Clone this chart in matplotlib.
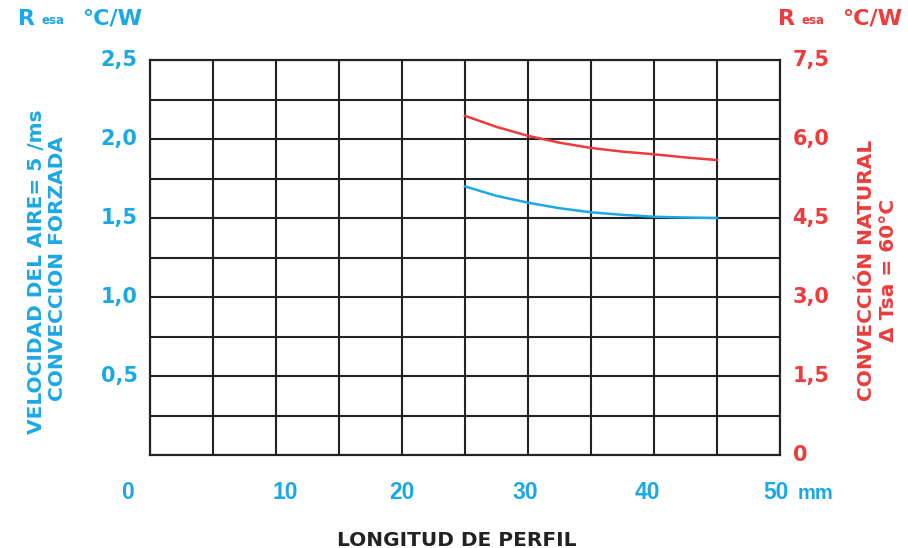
import matplotlib
matplotlib.use("Agg")
import matplotlib.pyplot as plt

# ---- data ----
length_mm = [25, 27.5, 30, 32.5, 35, 37.5, 40, 42.5, 45]
r_forced = [1.70, 1.64, 1.597, 1.562, 1.536, 1.52, 1.508, 1.503, 1.50]   # left axis
r_natural = [6.44, 6.23, 6.06, 5.93, 5.83, 5.76, 5.71, 5.65, 5.60]       # right axis

left_ticks = [0.5, 1.0, 1.5, 2.0, 2.5]
left_labels = ["0,5", "1,0", "1,5", "2,0", "2,5"]
right_ticks = [0, 1.5, 3.0, 4.5, 6.0, 7.5]
right_labels = ["0", "1,5", "3,0", "4,5", "6,0", "7,5"]
x_labels = ["0", "10", "20", "30", "40", "50"]
x_label_pos = [-1.8, 10.7, 20.0, 29.8, 39.5, 49.7]

BLUE = "#1BA8E6"
RED = "#EE3B3B"
DARK = "#222222"

plt.rcParams["font.family"] = ["DejaVu Sans"]
plt.rcParams["font.weight"] = "bold"
NARROW = ["Liberation Sans", "DejaVu Sans"]

fig = plt.figure(figsize=(9.08, 5.48), dpi=100)
ax = fig.add_axes([150/908, 93/548, 630/908, 395/548])
ax2 = ax.twinx()

ax.set_xlim(0, 50)
ax.set_ylim(0, 2.5)
ax2.set_ylim(0, 7.5)

ax.set_xticks(range(0, 51, 5))
ax.set_yticks([i * 0.25 for i in range(11)])
ax.grid(True, color=DARK, linewidth=1.5)
ax.tick_params(axis="both", length=0, labelbottom=False, labelleft=False)
ax2.set_yticks([])
for a in (ax, ax2):
    for s in a.spines.values():
        s.set_color(DARK)
        s.set_linewidth(1.5)

ax.plot(length_mm, r_forced, color=BLUE, lw=1.8, zorder=5)
ax2.plot(length_mm, r_natural, color=RED, lw=1.8, zorder=5)

# left tick labels
for v, t in zip(left_ticks, left_labels):
    ax.annotate(t, xy=(0, v), xycoords=("axes fraction", "data"), xytext=(-9, 0),
                textcoords="offset points", ha="right", va="center",
                color=BLUE, fontsize=15, fontweight="bold")
# right tick labels
for v, t in zip(right_ticks, right_labels):
    ax2.annotate(t, xy=(1, v), xycoords=("axes fraction", "data"), xytext=(9, 0),
                 textcoords="offset points", ha="left", va="center",
                 color=RED, fontsize=15, fontweight="bold")
# x labels
for p, t in zip(x_label_pos, x_labels):
    ax.annotate(t, xy=(p, 0), xycoords=("data", "axes fraction"), xytext=(0, -27),
                textcoords="offset points", ha="center", va="center",
                color=BLUE, fontsize=16.5, fontweight="bold", family=NARROW)
ax.annotate("mm", xy=(50, 0), xycoords=("data", "axes fraction"), xytext=(13, -28),
            textcoords="offset points", ha="left", va="center",
            color=BLUE, fontsize=14.5, fontweight="bold", family=NARROW)

fig.text(457/908, 1 - 540/548, "LONGITUD DE PERFIL",
         ha="center", va="center", fontsize=14.5, fontweight="bold", color=DARK)

# top units
for x0, col in ((18, BLUE), (778, RED)):
    fig.text(x0/908, 1 - 19/548, "R", ha="left", va="center", color=col, fontsize=16, fontweight="bold")
    fig.text((x0 + 24)/908, 1 - 21/548, "esa", ha="left", va="center", color=col, fontsize=8.5, fontweight="bold")
    fig.text((x0 + 64)/908, 1 - 19/548, "°C/W", ha="left", va="center", color=col, fontsize=16, fontweight="bold")

# rotated axis titles
fig.text(37/908, 1 - 272/548, "VELOCIDAD DEL AIRE= 5 /ms",
         rotation=90, ha="center", va="center", color=BLUE, fontsize=14.5, fontweight="bold")
fig.text(58/908, 1 - 269/548, "CONVECCION FORZADA",
         rotation=90, ha="center", va="center", color=BLUE, fontsize=14.5, fontweight="bold")
fig.text(866/908, 1 - 270/548, "CONVECCIÓN NATURAL",
         rotation=90, ha="center", va="center", color=RED, fontsize=14.5, fontweight="bold")
fig.text(889/908, 1 - 270/548, "Δ Tsa = 60°C",
         rotation=90, ha="center", va="center", color=RED, fontsize=14.5, fontweight="bold")

fig.savefig("out.png", dpi=100)
